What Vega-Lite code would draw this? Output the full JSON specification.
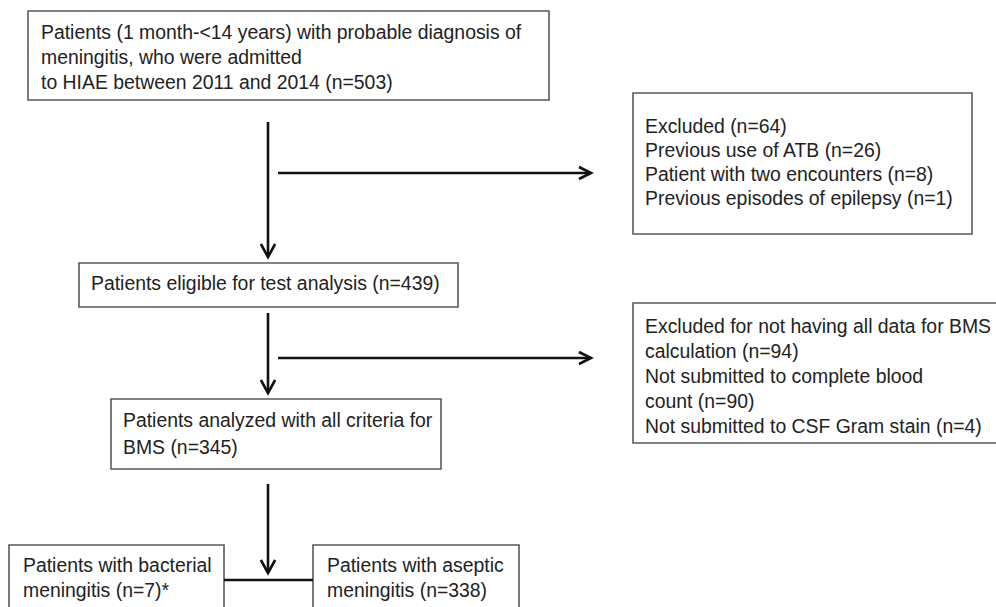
{
  "$schema": "https://vega.github.io/schema/vega-lite/v6.json",
  "width": 996,
  "height": 607,
  "padding": 0,
  "autosize": {"type": "none"},
  "background": "white",
  "config": {"view": {"stroke": null}},
  "datasets": {
    "boxes": [
      {"id": "start", "x": 28, "x2": 549, "y": 11, "y2": 100},
      {"id": "excl1", "x": 633, "x2": 972, "y": 93, "y2": 234},
      {"id": "eligible", "x": 79, "x2": 458, "y": 263, "y2": 307},
      {"id": "excl2", "x": 633, "x2": 1010, "y": 303, "y2": 443},
      {"id": "analyzed", "x": 111, "x2": 441, "y": 399, "y2": 469},
      {"id": "bacterial", "x": 9, "x2": 224, "y": 545, "y2": 620},
      {"id": "aseptic", "x": 313, "x2": 519, "y": 545, "y2": 620}
    ],
    "lines": [
      {"x": 268, "x2": 268, "y": 122, "y2": 257},
      {"x": 278, "x2": 591, "y": 173, "y2": 173},
      {"x": 268, "x2": 268, "y": 313, "y2": 393},
      {"x": 278, "x2": 591, "y": 358, "y2": 358},
      {"x": 268, "x2": 268, "y": 484, "y2": 573},
      {"x": 224, "x2": 313, "y": 580, "y2": 580}
    ],
    "arrows": [
      {"x": 268, "y": 257, "dir": "down"},
      {"x": 591, "y": 173, "dir": "right"},
      {"x": 268, "y": 393, "dir": "down"},
      {"x": 591, "y": 358, "dir": "right"},
      {"x": 268, "y": 573, "dir": "down"}
    ],
    "labels": [
      {"x": 41, "y": 39, "text": "Patients (1 month-<14 years) with probable diagnosis of"},
      {"x": 41, "y": 64, "text": "meningitis, who were admitted"},
      {"x": 41, "y": 89, "text": "to HIAE between 2011 and 2014 (n=503)"},
      {"x": 645, "y": 133, "text": "Excluded (n=64)"},
      {"x": 645, "y": 157, "text": "Previous use of ATB (n=26)"},
      {"x": 645, "y": 181, "text": "Patient with two encounters (n=8)"},
      {"x": 645, "y": 205, "text": "Previous episodes of epilepsy (n=1)"},
      {"x": 91, "y": 290, "text": "Patients eligible for test analysis (n=439)"},
      {"x": 645, "y": 333, "text": "Excluded for not having all data for BMS"},
      {"x": 645, "y": 358, "text": "calculation (n=94)"},
      {"x": 645, "y": 383, "text": "Not submitted to complete blood"},
      {"x": 645, "y": 408, "text": "count (n=90)"},
      {"x": 645, "y": 433, "text": "Not submitted to CSF Gram stain (n=4)"},
      {"x": 123, "y": 427, "text": "Patients analyzed with all criteria for"},
      {"x": 123, "y": 454, "text": "BMS (n=345)"},
      {"x": 23, "y": 572, "text": "Patients with bacterial"},
      {"x": 23, "y": 597, "text": "meningitis (n=7)*"},
      {"x": 327, "y": 572, "text": "Patients with aseptic"},
      {"x": 327, "y": 597, "text": "meningitis (n=338)"}
    ]
  },
  "layer": [
    {
      "data": {"name": "boxes"},
      "mark": {"type": "rect", "fill": "white", "stroke": "#5a5a5a", "strokeWidth": 1.6},
      "encoding": {
        "x": {"field": "x", "type": "quantitative", "scale": {"domain": [0, 996], "nice": false, "zero": false}, "axis": null},
        "x2": {"field": "x2"},
        "y": {"field": "y", "type": "quantitative", "scale": {"domain": [0, 607], "nice": false, "zero": false, "reverse": true}, "axis": null},
        "y2": {"field": "y2"}
      }
    },
    {
      "data": {"name": "lines"},
      "mark": {"type": "rule", "color": "#111111", "strokeWidth": 2.6},
      "encoding": {
        "x": {"field": "x", "type": "quantitative"},
        "x2": {"field": "x2"},
        "y": {"field": "y", "type": "quantitative"},
        "y2": {"field": "y2"}
      }
    },
    {
      "data": {"name": "arrows"},
      "transform": [{"filter": "datum.dir === 'down'"}],
      "mark": {"type": "point", "shape": "M-0.55,-1L0,0L0.55,-1", "size": 676, "filled": false, "stroke": "#111111", "strokeWidth": 2.6, "opacity": 1},
      "encoding": {
        "x": {"field": "x", "type": "quantitative"},
        "y": {"field": "y", "type": "quantitative"}
      }
    },
    {
      "data": {"name": "arrows"},
      "transform": [{"filter": "datum.dir === 'right'"}],
      "mark": {"type": "point", "shape": "M-1,-0.5L0,0L-1,0.5", "size": 576, "filled": false, "stroke": "#111111", "strokeWidth": 2.6, "opacity": 1},
      "encoding": {
        "x": {"field": "x", "type": "quantitative"},
        "y": {"field": "y", "type": "quantitative"}
      }
    },
    {
      "data": {"name": "labels"},
      "mark": {"type": "text", "align": "left", "baseline": "alphabetic", "font": "Liberation Sans", "fontSize": 19.4, "color": "#222222"},
      "encoding": {
        "x": {"field": "x", "type": "quantitative"},
        "y": {"field": "y", "type": "quantitative"},
        "text": {"field": "text"}
      }
    }
  ]
}
